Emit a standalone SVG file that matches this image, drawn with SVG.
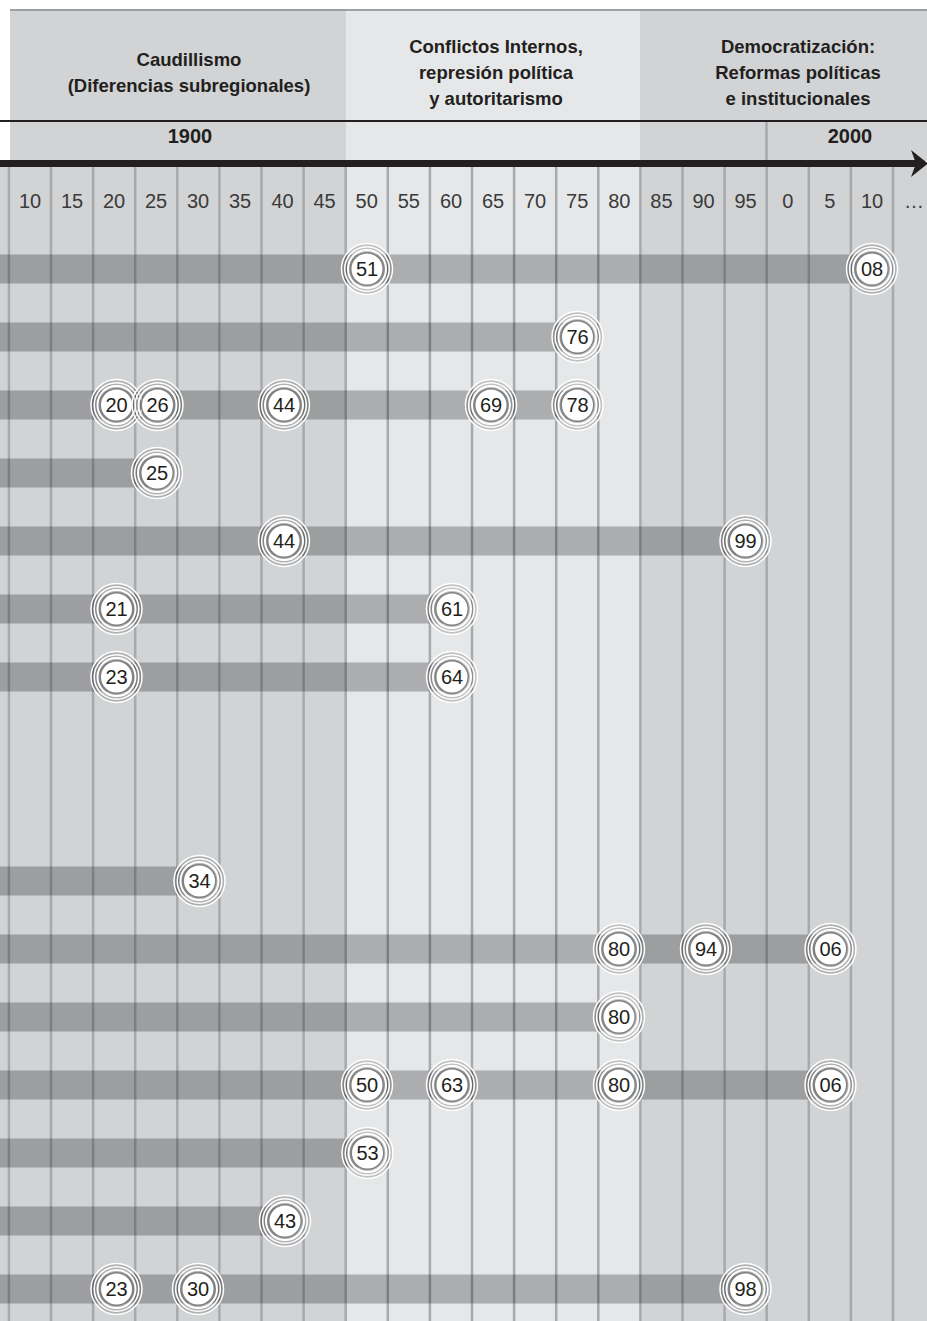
<svg xmlns="http://www.w3.org/2000/svg" xmlns:xlink="http://www.w3.org/1999/xlink" width="927" height="1321" viewBox="0 0 927 1321">
<style>
.bgA{fill:#d1d3d4}
.bgB{fill:#e6e7e8}
.head{font-family:"Liberation Sans",Arial,sans-serif;font-weight:bold;font-size:18.5px;fill:#231f20;text-anchor:middle}
.yr{font-family:"Liberation Sans",Arial,sans-serif;font-weight:bold;font-size:20px;fill:#231f20;text-anchor:middle}
.lab{font-family:"Liberation Sans",Arial,sans-serif;font-size:20px;fill:#3a3a3a;text-anchor:middle}
.num{font-family:"Liberation Sans",Arial,sans-serif;font-size:20px;fill:#231f20;text-anchor:middle}
.grid{stroke:#a7a9ac;stroke-width:2.5}
.band{fill:#000;fill-opacity:0.25}
</style>
<defs>
<g id="ring">
<circle r="25.5" fill="#000" fill-opacity="0.16" stroke="#fff" stroke-width="1.5"/>
<circle r="22.3" fill="none" stroke="#fff" stroke-width="1.6"/>
<circle r="19" fill="none" stroke="#fff" stroke-width="2"/>
<circle r="16.2" fill="#fff" stroke="#808184" stroke-width="1.4"/>
</g>
</defs>

<!-- header backgrounds -->
<g id="header">
<rect class="bgA" x="10" y="10" width="336" height="112"/>
<rect class="bgB" x="346" y="10" width="294" height="112"/>
<rect class="bgA" x="640" y="10" width="287" height="112"/>
<rect class="bgA" x="10" y="122" width="336" height="39"/>
<rect class="bgB" x="346" y="122" width="294" height="39"/>
<rect class="bgA" x="640" y="122" width="287" height="39"/>
<line x1="10" y1="10" x2="927" y2="10" stroke="#9d9fa2" stroke-width="2"/>
<line x1="0" y1="121" x2="927" y2="121" stroke="#231f20" stroke-width="2"/>
<line x1="766.5" y1="122" x2="766.5" y2="160" class="grid"/>
<text class="head" x="189" y="66">Caudillismo</text>
<text class="head" x="189" y="92">(Diferencias subregionales)</text>
<text class="head" x="496" y="53">Conflictos Internos,</text>
<text class="head" x="496" y="79">represión política</text>
<text class="head" x="496" y="105">y autoritarismo</text>
<text class="head" x="798" y="53">Democratización:</text>
<text class="head" x="798" y="79">Reformas políticas</text>
<text class="head" x="798" y="105">e institucionales</text>
<text class="yr" x="190" y="143">1900</text>
<text class="yr" x="850" y="143">2000</text>
</g>

<!-- body backgrounds and grid -->
<g id="grid">
<rect class="bgA" x="0" y="163" width="346" height="1158"/>
<rect class="bgB" x="346" y="163" width="294" height="1158"/>
<rect class="bgA" x="640" y="163" width="287" height="1158"/>
<line class="grid" x1="8.9" y1="167" x2="8.9" y2="1321"/>
<line class="grid" x1="51" y1="167" x2="51" y2="1321"/>
<line class="grid" x1="93.1" y1="167" x2="93.1" y2="1321"/>
<line class="grid" x1="135.2" y1="167" x2="135.2" y2="1321"/>
<line class="grid" x1="177.3" y1="167" x2="177.3" y2="1321"/>
<line class="grid" x1="219.4" y1="167" x2="219.4" y2="1321"/>
<line class="grid" x1="261.5" y1="167" x2="261.5" y2="1321"/>
<line class="grid" x1="303.6" y1="167" x2="303.6" y2="1321"/>
<line class="grid" x1="345.7" y1="167" x2="345.7" y2="1321"/>
<line class="grid" x1="387.8" y1="167" x2="387.8" y2="1321"/>
<line class="grid" x1="429.9" y1="167" x2="429.9" y2="1321"/>
<line class="grid" x1="472" y1="167" x2="472" y2="1321"/>
<line class="grid" x1="514.1" y1="167" x2="514.1" y2="1321"/>
<line class="grid" x1="556.2" y1="167" x2="556.2" y2="1321"/>
<line class="grid" x1="598.3" y1="167" x2="598.3" y2="1321"/>
<line class="grid" x1="640.4" y1="167" x2="640.4" y2="1321"/>
<line class="grid" x1="682.5" y1="167" x2="682.5" y2="1321"/>
<line class="grid" x1="724.6" y1="167" x2="724.6" y2="1321"/>
<line class="grid" x1="766.7" y1="167" x2="766.7" y2="1321"/>
<line class="grid" x1="808.8" y1="167" x2="808.8" y2="1321"/>
<line class="grid" x1="850.9" y1="167" x2="850.9" y2="1321"/>
<line class="grid" x1="893" y1="167" x2="893" y2="1321"/>
</g>

<!-- axis -->
<g id="axis">
<rect x="0" y="160" width="916" height="7" fill="#231f20"/>
<polygon points="911,150 928,163.5 911,177 916,163.5" fill="#231f20"/>
</g>

<g id="labels">
<text class="lab" x="30" y="208">10</text>
<text class="lab" x="72" y="208">15</text>
<text class="lab" x="114" y="208">20</text>
<text class="lab" x="156" y="208">25</text>
<text class="lab" x="198" y="208">30</text>
<text class="lab" x="240" y="208">35</text>
<text class="lab" x="282.5" y="208">40</text>
<text class="lab" x="324.6" y="208">45</text>
<text class="lab" x="366.7" y="208">50</text>
<text class="lab" x="408.8" y="208">55</text>
<text class="lab" x="451" y="208">60</text>
<text class="lab" x="493" y="208">65</text>
<text class="lab" x="535" y="208">70</text>
<text class="lab" x="577.2" y="208">75</text>
<text class="lab" x="619.3" y="208">80</text>
<text class="lab" x="661.4" y="208">85</text>
<text class="lab" x="703.5" y="208">90</text>
<text class="lab" x="745.6" y="208">95</text>
<text class="lab" x="787.7" y="208">0</text>
<text class="lab" x="829.8" y="208">5</text>
<text class="lab" x="872" y="208">10</text>
<text class="lab" x="914" y="208">…</text>
</g>

<!-- bands (connectors) -->
<g id="connectors">
<rect class="band" x="0" y="254.5" width="872" height="29"/>
<rect class="band" x="0" y="322.5" width="577" height="29"/>
<rect class="band" x="0" y="390.5" width="577" height="29"/>
<rect class="band" x="0" y="458.5" width="156" height="29"/>
<rect class="band" x="0" y="526.5" width="746" height="29"/>
<rect class="band" x="0" y="594.5" width="451" height="29"/>
<rect class="band" x="0" y="662.5" width="451" height="29"/>
<rect class="band" x="0" y="866.5" width="199" height="29"/>
<rect class="band" x="0" y="934.5" width="830" height="29"/>
<rect class="band" x="0" y="1002.5" width="619" height="29"/>
<rect class="band" x="0" y="1070.5" width="830" height="29"/>
<rect class="band" x="0" y="1138.5" width="367" height="29"/>
<rect class="band" x="0" y="1206.5" width="283" height="29"/>
<rect class="band" x="0" y="1274.5" width="746" height="29"/>
</g>

<!-- event nodes -->
<g id="e1-51" transform="translate(367,269)"><use xlink:href="#ring"/><text class="num" y="7">51</text></g>
<g id="e1-08" transform="translate(872,269)"><use xlink:href="#ring"/><text class="num" y="7">08</text></g>
<g id="e2-76" transform="translate(577.5,337)"><use xlink:href="#ring"/><text class="num" y="7">76</text></g>
<g id="e3-20" transform="translate(116.5,405)"><use xlink:href="#ring"/><text class="num" y="7">20</text></g>
<g id="e3-26" transform="translate(157.5,405)"><use xlink:href="#ring"/><text class="num" y="7">26</text></g>
<g id="e3-44" transform="translate(284,405)"><use xlink:href="#ring"/><text class="num" y="7">44</text></g>
<g id="e3-69" transform="translate(491,405)"><use xlink:href="#ring"/><text class="num" y="7">69</text></g>
<g id="e3-78" transform="translate(577.5,405)"><use xlink:href="#ring"/><text class="num" y="7">78</text></g>
<g id="e4-25" transform="translate(157,473)"><use xlink:href="#ring"/><text class="num" y="7">25</text></g>
<g id="e5-44" transform="translate(284,541)"><use xlink:href="#ring"/><text class="num" y="7">44</text></g>
<g id="e5-99" transform="translate(745.5,541)"><use xlink:href="#ring"/><text class="num" y="7">99</text></g>
<g id="e6-21" transform="translate(116.5,609)"><use xlink:href="#ring"/><text class="num" y="7">21</text></g>
<g id="e6-61" transform="translate(452,609)"><use xlink:href="#ring"/><text class="num" y="7">61</text></g>
<g id="e7-23" transform="translate(116.5,677)"><use xlink:href="#ring"/><text class="num" y="7">23</text></g>
<g id="e7-64" transform="translate(452,677)"><use xlink:href="#ring"/><text class="num" y="7">64</text></g>
<g id="e10-34" transform="translate(199.5,881)"><use xlink:href="#ring"/><text class="num" y="7">34</text></g>
<g id="e11-80" transform="translate(619,949)"><use xlink:href="#ring"/><text class="num" y="7">80</text></g>
<g id="e11-94" transform="translate(706,949)"><use xlink:href="#ring"/><text class="num" y="7">94</text></g>
<g id="e11-06" transform="translate(830.5,949)"><use xlink:href="#ring"/><text class="num" y="7">06</text></g>
<g id="e12-80" transform="translate(619,1017)"><use xlink:href="#ring"/><text class="num" y="7">80</text></g>
<g id="e13-50" transform="translate(367,1085)"><use xlink:href="#ring"/><text class="num" y="7">50</text></g>
<g id="e13-63" transform="translate(452,1085)"><use xlink:href="#ring"/><text class="num" y="7">63</text></g>
<g id="e13-80" transform="translate(619,1085)"><use xlink:href="#ring"/><text class="num" y="7">80</text></g>
<g id="e13-06" transform="translate(830.5,1085)"><use xlink:href="#ring"/><text class="num" y="7">06</text></g>
<g id="e14-53" transform="translate(367.5,1153)"><use xlink:href="#ring"/><text class="num" y="7">53</text></g>
<g id="e15-43" transform="translate(285,1221)"><use xlink:href="#ring"/><text class="num" y="7">43</text></g>
<g id="e16-23" transform="translate(116.5,1289)"><use xlink:href="#ring"/><text class="num" y="7">23</text></g>
<g id="e16-30" transform="translate(198,1289)"><use xlink:href="#ring"/><text class="num" y="7">30</text></g>
<g id="e16-98" transform="translate(745.5,1289)"><use xlink:href="#ring"/><text class="num" y="7">98</text></g>
</svg>
